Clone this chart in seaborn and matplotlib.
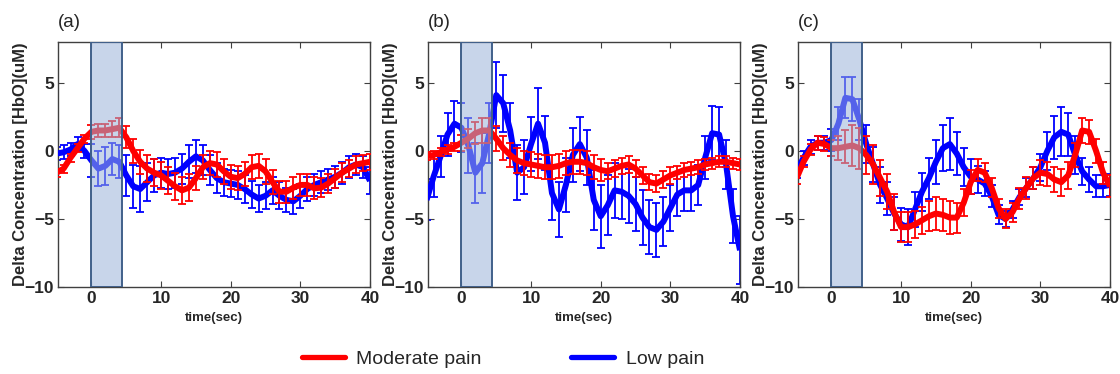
import numpy as np
import pandas as pd
import matplotlib
matplotlib.use("Agg")
import matplotlib.pyplot as plt
from matplotlib.lines import Line2D
import seaborn as sns

# time axis (seconds, stimulus onset at 0)
time_sec = list(range(-5, 41))

# ---- panel (a) ----
a_moderate = [-1.6, -1.3, -0.5, 0.2, 0.9,
              1.4, 1.5, 1.5, 1.6, 1.7,
              1.0, 0.0, -0.8, -1.3, -1.6,
              -1.8, -2.2, -2.6, -2.9, -2.7,
              -2.0, -1.2, -0.9, -1.0, -1.5,
              -1.9, -2.0, -1.7, -1.2, -1.1,
              -1.5, -2.3, -3.0, -3.0, -2.7,
              -2.5, -2.5, -2.75, -2.7, -2.4,
              -2.0, -1.6, -1.3, -1.0, -0.9,
              -0.8]
a_moderate_err = [0.3, 0.3, 0.3, 0.3, 0.3,
                  0.5, 0.5, 0.5, 0.6, 0.7,
                  0.8, 0.9, 0.9, 1.0, 1.0,
                  1.0, 1.0, 1.0, 1.0, 1.0,
                  0.9, 0.9, 0.9, 0.9, 0.9,
                  0.9, 0.9, 0.9, 0.9, 0.9,
                  0.9, 0.9, 0.8, 0.8, 0.8,
                  0.8, 0.8, 0.8, 0.7, 0.7,
                  0.7, 0.7, 0.6, 0.6, 0.6,
                  0.6]
a_low = [-0.2, -0.1, 0.1, 0.5, 0.0,
         -0.7, -1.3, -1.1, -0.6, -0.8,
         -1.8, -2.6, -2.8, -2.3, -1.8,
         -1.6, -1.7, -1.6, -1.3, -0.8,
         -0.4, -0.7, -1.4, -2.0, -2.3,
         -2.4, -2.5, -2.8, -3.2, -3.5,
         -3.3, -2.9, -3.3, -3.6, -3.7,
         -3.3, -2.8, -2.5, -2.3, -2.1,
         -1.9, -1.6, -1.2, -1.0, -1.2,
         -2.2]
a_low_err = [0.5, 0.5, 0.5, 0.5, 0.5,
             1.2, 1.3, 1.4, 1.2, 1.2,
             1.5, 1.6, 1.7, 1.4, 1.2,
             1.1, 1.1, 1.1, 1.1, 1.2,
             1.2, 1.1, 1.1, 1.1, 1.0,
             1.0, 1.0, 1.0, 1.0, 1.0,
             1.0, 1.0, 1.0, 0.9, 0.9,
             0.9, 0.9, 0.8, 0.8, 0.8,
             0.8, 0.8, 0.8, 0.8, 0.8,
             1.0]

# ---- panel (b) ----
b_moderate = [-0.4, -0.3, -0.1, 0.1, 0.3,
              0.6, 0.9, 1.3, 1.5, 1.5,
              0.9, 0.2, -0.3, -0.7, -0.9,
              -1.0, -1.1, -1.2, -1.2, -1.1,
              -0.9, -0.8, -0.8, -0.9, -1.2,
              -1.4, -1.5, -1.3, -1.1, -1.0,
              -1.3, -1.8, -2.3, -2.4, -2.1,
              -1.8, -1.6, -1.4, -1.3, -1.2,
              -1.0, -0.9, -0.8, -0.8, -0.9,
              -1.0]
b_moderate_err = [0.3, 0.3, 0.3, 0.3, 0.3,
                  0.6, 0.7, 0.8, 0.9, 0.9,
                  0.9, 0.9, 0.9, 0.9, 0.9,
                  0.9, 0.9, 0.9, 0.9, 0.9,
                  0.9, 0.9, 0.9, 0.9, 0.9,
                  0.8, 0.6, 0.6, 0.6, 0.6,
                  0.6, 0.6, 0.6, 0.6, 0.6,
                  0.6, 0.5, 0.5, 0.5, 0.5,
                  0.4, 0.4, 0.4, 0.4, 0.4,
                  0.4]
b_low = [-3.6, -1.9, -0.4, 1.2, 2.0,
         1.7, 0.4, -1.6, -0.9, 1.3,
         4.1, 3.5, 1.5, -1.6, -1.2,
         0.5, 2.0, 0.6, -3.1, -4.3,
         -2.5, -0.3, 0.5, -0.5, -3.6,
         -4.8, -4.0, -2.9, -3.0, -3.3,
         -3.9, -4.9, -5.6, -5.8, -5.2,
         -4.2, -3.2, -2.9, -2.9, -2.5,
         -0.5, 1.3, 1.2, -1.0, -4.8,
         -7.3]
b_low_err = [1.5, 1.5, 1.5, 1.6, 1.7,
             1.8, 2.0, 2.2, 2.2, 2.2,
             2.4, 2.1, 2.0, 2.0, 2.0,
             2.0, 2.6, 2.0, 2.0, 2.0,
             2.0, 2.0, 2.0, 2.0, 2.2,
             2.3, 2.2, 2.0, 2.0, 2.0,
             2.0, 2.0, 2.0, 2.0, 1.8,
             1.7, 1.6, 1.5, 1.5, 1.5,
             1.6, 2.0, 2.0, 1.8, 2.0,
             2.5]

# ---- panel (c) ----
c_moderate = [-2.0, -0.8, 0.1, 0.6, 0.5,
              0.2, 0.2, 0.3, 0.4, 0.2,
              -0.3, -1.0, -2.0, -3.0, -4.5,
              -5.6, -5.6, -5.4, -5.1, -4.8,
              -4.6, -4.7, -4.9, -4.9, -3.8,
              -2.3, -1.4, -1.6, -2.7, -4.2,
              -5.0, -4.5, -3.5, -2.7, -2.0,
              -1.6, -1.7, -2.1, -2.3, -1.8,
              -0.3, 1.5, 1.4, 0.0, -1.6,
              -2.6]
c_moderate_err = [0.4, 0.4, 0.4, 0.5, 0.5,
                  0.6, 0.9, 1.2, 1.5, 1.5,
                  1.4, 1.4, 1.3, 1.3, 1.3,
                  1.1, 1.1, 1.0, 1.0, 1.1,
                  1.2, 1.2, 1.2, 1.1, 1.0,
                  0.9, 0.8, 0.7, 0.7, 0.7,
                  0.7, 0.7, 0.8, 0.8, 0.8,
                  0.9, 0.9, 0.9, 1.0, 1.0,
                  0.9, 0.9, 0.9, 0.9, 0.8,
                  0.8]
c_low = [-1.5, -0.5, 0.3, 0.6, 0.6,
         0.8, 2.0, 3.9, 3.8, 2.3,
         0.5, -1.0, -2.5, -3.5, -4.6,
         -5.4, -5.6, -4.3, -3.0, -2.0,
         -0.8, 0.2, 0.5, -0.2, -1.2,
         -1.9, -2.1, -2.4, -3.3, -4.7,
         -5.0, -4.3, -3.4, -2.7, -2.0,
         -1.2, 0.0, 1.0, 1.4, 1.2,
         -0.3, -1.5, -2.1, -2.6, -2.6,
         -2.5]
c_low_err = [0.5, 0.5, 0.5, 0.5, 0.5,
             0.8, 1.2, 1.5, 1.6, 1.5,
             1.4, 1.3, 1.3, 1.2, 1.2,
             1.2, 1.3, 1.3, 1.4, 1.5,
             1.6, 1.7, 1.9, 1.6, 1.4,
             1.3, 1.0, 0.9, 0.8, 0.7,
             0.6, 0.6, 0.6, 0.7, 0.8,
             1.0, 1.4, 1.6, 1.8, 1.6,
             1.4, 1.0, 0.9, 0.8, 0.8,
             0.8]

panel_labels = ["(a)", "(b)", "(c)"]
group_names = ["Moderate pain", "Low pain"]
stim_window = (0.0, 4.4)
x_ticks = [0, 10, 20, 30, 40]
y_ticks = [-10, -5, 0, 5]

panels = [
    (a_moderate, a_moderate_err, a_low, a_low_err),
    (b_moderate, b_moderate_err, b_low, b_low_err),
    (c_moderate, c_moderate_err, c_low, c_low_err),
]

sns.set_theme(style="white")
plt.rcParams["font.family"] = ["Liberation Sans", "DejaVu Sans"]

RED = "#ff0000"
BLUE = "#0000ff"
palette = {"Moderate pain": RED, "Low pain": BLUE}

fig = plt.figure(figsize=(11.2, 3.74), dpi=100)
lefts = [58 / 1120, 428 / 1120, 798 / 1120]
width = 312 / 1120
bottom = (374 - 287) / 374
height = 245 / 374

for i, (mod, mod_err, low, low_err) in enumerate(panels):
    ax = fig.add_axes([lefts[i], bottom, width, height])
    df = pd.DataFrame({
        "time": time_sec * 2,
        "conc": mod + low,
        "err": mod_err + low_err,
        "group": ["Moderate pain"] * len(time_sec) + ["Low pain"] * len(time_sec),
    })
    # low pain first, moderate pain drawn on top
    for name, z in (("Low pain", 2), ("Moderate pain", 4)):
        sub = df[df["group"] == name]
        ax.errorbar(sub["time"], sub["conc"], yerr=sub["err"], fmt="none",
                    ecolor=palette[name], elinewidth=1.3, capsize=2.6,
                    capthick=1.3, zorder=z)
        sns.lineplot(data=sub, x="time", y="conc", color=palette[name],
                     linewidth=4.3, ax=ax, zorder=z + 1, legend=False,
                     solid_capstyle="butt", solid_joinstyle="round")

    # stimulus window (translucent, drawn over the traces)
    ax.axvspan(*stim_window, facecolor="#9bb4d9", alpha=0.55, edgecolor="none", zorder=6)
    ax.axvspan(*stim_window, facecolor="none", edgecolor="#41608a", linewidth=1.4, zorder=7)

    ax.set_xlim(-4.8, 40)
    ax.set_ylim(-10, 8)
    ax.set_xticks(x_ticks)
    ax.set_yticks(y_ticks)
    ax.tick_params(direction="in", length=4, width=0.8, top=True, right=True,
                   bottom=True, left=True, color="#404040", labelsize=12.5, pad=3)
    for lab in ax.get_xticklabels() + ax.get_yticklabels():
        lab.set_fontweight("bold")
    for sp in ax.spines.values():
        sp.set_color("#404040")
        sp.set_linewidth(1.0)
    ax.set_xlabel("time(sec)", fontsize=9.5, fontweight="bold")
    ax.xaxis.set_label_coords(0.5, -0.10)
    ax.set_ylabel("Delta Concentration [HbO](uM)", fontsize=12, fontweight="bold")
    ax.yaxis.set_label_coords(-0.096, 0.5)
    ax.text(0.0, 1.08, panel_labels[i], transform=ax.transAxes, fontsize=13.5,
            ha="left", va="center")

handles = [Line2D([0], [0], color=palette[n], linewidth=3.8) for n in group_names]
fig.legend(handles, group_names, loc="center", bbox_to_anchor=(0.449, 1 - 359 / 374),
           ncol=2, frameon=False, fontsize=14, handlelength=2.2, handletextpad=0.6,
           columnspacing=4.6)

fig.savefig("out.png", dpi=100, facecolor="white")
